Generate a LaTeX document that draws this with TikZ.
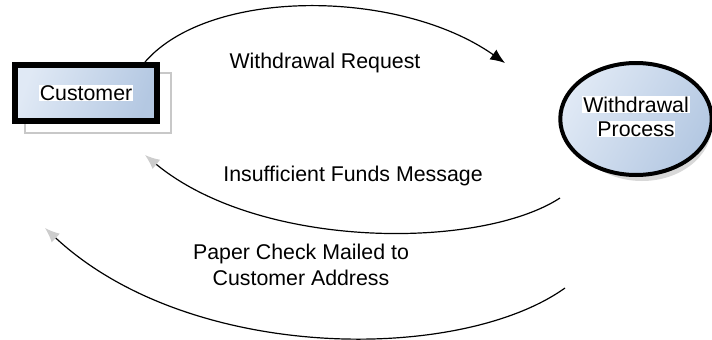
\documentclass[tikz,border=0pt]{standalone}
\usepackage{fontspec}
\setmainfont{Liberation Sans}
\usetikzlibrary{arrows.meta,shapes.geometric}
\definecolor{boxlite}{RGB}{224,233,245}
\definecolor{boxdark}{RGB}{180,200,226}
\definecolor{shadowcol}{RGB}{200,200,200}
\definecolor{tipgrey}{RGB}{205,205,205}

\tikzset{
	every node/.style={font=\fontsize{16}{20}\selectfont},
	entity/.style={draw=black, line width=4.5pt, minimum width=106.5pt, minimum height=42pt,
			left color=boxlite, right color=boxdark, shading angle=70},
	process/.style={ellipse, draw=black, line width=3pt, minimum width=105pt, minimum height=84pt,
			inner sep=0pt, left color=boxlite, right color=boxdark, shading angle=60},
	flow/.style={line width=0.9pt, -{Latex[length=11pt, width=9pt]}},
	backflow/.style={line width=0.9pt, -{Latex[length=11pt, width=9pt, color=tipgrey]}},
}
\newcommand{\hl}[1]{{\fboxsep=0.6pt\colorbox{white}{#1}}}

\begin{document}
\begin{tikzpicture}[x=0.75pt, y=-0.75pt]

	\useasboundingbox (0,0) rectangle (712,339);

	% =============================================
	%  ENTITY AND PROCESS
	% =============================================

	% shadow outline behind the customer box
	\draw[shadowcol, line width=1.6pt] (25,73) rectangle (171,133);
	\node[entity] (cust) at (86,93) {\hl{Customer}};

	% soft shadow behind the process bubble
	\fill[shadowcol!70] (642,125) ellipse (70 and 56);
	\node[process] (proc) at (636,119)
	{\begin{tabular}{@{}c@{}}\hl{Withdrawal}\\[-2pt]\hl{Process}\end{tabular}};

	% --- free ends of the flows ---
	\coordinate (reqA) at (145,62);
	\coordinate (reqB) at (505,63);
	\coordinate (nsfA) at (560,198);
	\coordinate (nsfB) at (145,155);
	\coordinate (chkA) at (565,288);
	\coordinate (chkB) at (45,228);

	% =============================================
	%  DATA FLOWS
	% =============================================

	\draw[flow] (reqA) .. controls (210,-13) and (400,-11) .. (reqB);
	\draw[backflow] (nsfA) .. controls (480,250) and (260,250) .. (nsfB);
	\draw[backflow] (chkA) .. controls (460,363) and (190,363) .. (chkB);

	% --- flow labels ---
	\node (reqlbl) at (325,63) {Withdrawal Request};
	\node (nsflbl) at (353,176) {Insufficient Funds Message};
	\node[align=center] (chklbl) at (301,265) {Paper Check Mailed to\\Customer Address};

\end{tikzpicture}
\end{document}
